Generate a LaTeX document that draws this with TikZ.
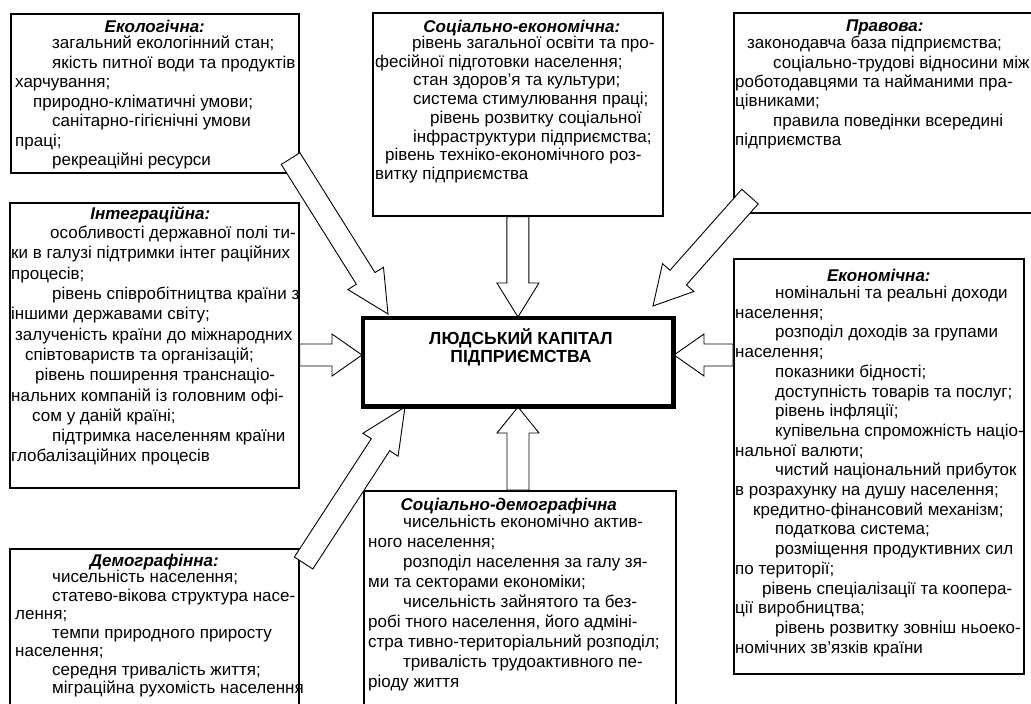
\documentclass[tikz,border=0pt]{standalone}
\usepackage{fontspec}
\setmainfont{Liberation Sans}
\usetikzlibrary{calc}

\tikzset{
  factor/.style={draw, line width=1.6pt, anchor=north west, inner sep=0pt},
  facthead/.style={anchor=north, inner sep=0pt, font=\fontsize{17}{19}\selectfont\bfseries\itshape},
  facttext/.style={anchor=north west, align=left, inner sep=0pt, font=\fontsize{17}{#1}\selectfont},
  facttext/.default=19.5pt,
  barrow/.style={draw, fill=white, line width=0.9pt, line join=miter},
}
\newcommand\ind[1]{\hspace*{#1pt}}
% hollow block arrow from #2 to #3, head length #1
\newcommand\bigarrow[3][30]{%
  \draw[barrow] let \p1=(#2), \p2=(#3),
      \n1={atan2(\y2-\y1,\x2-\x1)}, \n2={veclen(\x2-\x1,\y2-\y1)} in
    [shift={(\p1)}, rotate=\n1]
    (0pt,-11pt) -- (\n2-#1pt,-11pt) -- (\n2-#1pt,-21pt) -- (\n2,0pt)
    -- (\n2-#1pt,21pt) -- (\n2-#1pt,11pt) -- (0pt,11pt) -- cycle;}

\begin{document}
\begin{tikzpicture}[x=1pt,y=-1pt]
\useasboundingbox (0,0) rectangle (1031,704);
\clip (0,0) rectangle (1031,704);

% boxes round the centre
\node[factor, minimum width=288pt, minimum height=159pt] (ecolog) at (10,13) {};
\node[factor, minimum width=290pt, minimum height=203pt] (socecon) at (372,12) {};
\node[factor, minimum width=302pt, minimum height=200pt] (legal) at (733,12) {};
\node[factor, minimum width=289pt, minimum height=285pt] (integr) at (9,202) {};
\node[factor, minimum width=290pt, minimum height=415pt] (econom) at (733,258) {};
\node[factor, minimum width=312pt, minimum height=240pt] (socdem) at (363,490) {};
\node[factor, minimum width=289pt, minimum height=180pt] (demogr) at (9,548) {};

\node[facthead] (ecologh) at ([yshift=-7pt]ecolog.north) {Екологічна:};
\node[facttext] (ecologt) at ([xshift=5pt,yshift=-23pt]ecolog.north west) {%
\ind{37}загальний екологінний стан;\\
\ind{37}якість питної води та продуктів\\
харчування;\\
\ind{18}природно-кліматичні умови;\\
\ind{37}санітарно-гігієнічні умови\\
праці;\\
\ind{37}рекреаційні ресурси};

\node[facthead] (socecönh) at ([xshift=4pt,yshift=-8pt]socecon.north) {Соціально-економічна:};
\node[facttext=18.7pt] (socecont) at ([xshift=3pt,yshift=-24pt]socecon.north west) {%
\ind{37}рівень загальної освіти та про-\\
фесійної підготовки населення;\\
\ind{38}стан здоров’я та культури;\\
\ind{38}система стимулювання праці;\\
\ind{55}рівень розвитку соціальної\\
\ind{38}інфраструктури підприємства;\\
\ind{10}рівень техніко-економічного роз-\\
витку підприємства};

\node[facthead] (legalh) at ([yshift=-8pt]legal.north) {Правова:};
\node[facttext=19.4pt] (legalt) at ([xshift=2pt,yshift=-24pt]legal.north west) {%
\ind{12}законодавча база підприємства;\\
\ind{38}соціально-трудові відносини між\\
роботодавцями та найманими пра-\\
цівниками;\\
\ind{38}правила поведінки всередині\\
підприємства};

\node[facthead] (integrh) at ([xshift=-4pt,yshift=-5pt]integr.north) {Інтеграційна:};
\node[facttext=20.3pt] (integrt) at ([xshift=2pt,yshift=-24pt]integr.north west) {%
\ind{39}особливості державної полі ти-\\
ки в галузі підтримки інтег раційних\\
процесів;\\
\ind{41}рівень співробітництва країни з\\
іншими державами світу;\\
\ind{4}залученість країни до міжнародних\\
\ind{14}співтовариств та організацій;\\
\ind{24}рівень поширення транснаціо-\\
нальних компаній із головним офі-\\
\ind{21}сом у даній країні;\\
\ind{41}підтримка населенням країни\\
глобалізаційних процесів};

\node[facthead] (economh) at ([yshift=-11pt]econom.north) {Економічна:};
\node[facttext=19.7pt] (economt) at ([xshift=2pt,yshift=-28pt]econom.north west) {%
\ind{40}номінальні та реальні доходи\\
населення;\\
\ind{40}розподіл доходів за групами\\
населення;\\
\ind{40}показники бідності;\\
\ind{40}доступність товарів та послуг;\\
\ind{40}рівень інфляції;\\
\ind{40}купівельна спроможність націо-\\
нальної валюти;\\
\ind{40}чистий національний прибуток\\
в розрахунку на душу населення;\\
\ind{18}кредитно-фінансовий механізм;\\
\ind{40}податкова система;\\
\ind{40}розміщення продуктивних сил\\
по території;\\
\ind{27}рівень спеціалізації та коопера-\\
ції виробництва;\\
\ind{40}рівень розвитку зовніш ньоеко-\\
номічних зв’язків країни};

\node[facthead] (socdemh) at ([xshift=-11pt,yshift=-8pt]socdem.north) {Соціально-демографічна};
\node[facttext=20pt] (socdemt) at ([xshift=5pt,yshift=-25pt]socdem.north west) {%
\ind{35}чисельність економічно актив-\\
ного населення;\\
\ind{35}розподіл населення за галу зя-\\
ми та секторами економіки;\\
\ind{35}чисельність зайнятого та без-\\
робі тного населення, його адміні-\\
стра тивно-територіальний розподіл;\\
\ind{35}тривалість трудоактивного пе-\\
ріоду життя};

\node[facthead] (demogrh) at ([yshift=-6pt]demogr.north) {Демографінна:};
\node[facttext=18.5pt] (demogrt) at ([xshift=6pt,yshift=-22pt]demogr.north west) {%
\ind{37}чисельність населення;\\
\ind{37}статево-вікова структура насе-\\
лення;\\
\ind{37}темпи природного приросту\\
населення;\\
\ind{37}середня тривалість життя;\\
\ind{37}міграційна рухомість населення};

% centre box
\node[draw, line width=3pt, anchor=north west, inner sep=0pt,
  minimum width=309pt, minimum height=87pt] (capital) at (362,317) {};
\coordinate (capL) at ([yshift=7pt]capital.west);
\coordinate (capR) at ([yshift=7pt]capital.east);

% arrows into the centre
\bigarrow[34]{socecon.south}{capital.north}
\bigarrow[26]{capital.south |- socdem.north}{capital.south}
\bigarrow{integr.east |- capL}{capL}
\bigarrow{econom.west |- capR}{capR}
\bigarrow[42]{[xshift=-9pt,yshift=15pt]ecolog.south east}{[xshift=26pt,yshift=3pt]capital.north west}
\bigarrow[38]{[xshift=17pt,yshift=17pt]legal.south west}{[xshift=-21pt,yshift=11pt]capital.north east}
\bigarrow[45]{[xshift=4pt,yshift=-15pt]demogr.north east}{[xshift=43pt]capital.south west}

\draw[line width=3pt] (capital.north west) rectangle (capital.south east);
\node[anchor=north, inner sep=0pt, align=center,
  font=\fontsize{17.5}{18}\selectfont\bfseries] (capitalt) at ([xshift=3pt,yshift=-11pt]capital.north)
  {ЛЮДСЬКИЙ КАПІТАЛ\\ПІДПРИЄМСТВА};
\end{tikzpicture}
\end{document}
